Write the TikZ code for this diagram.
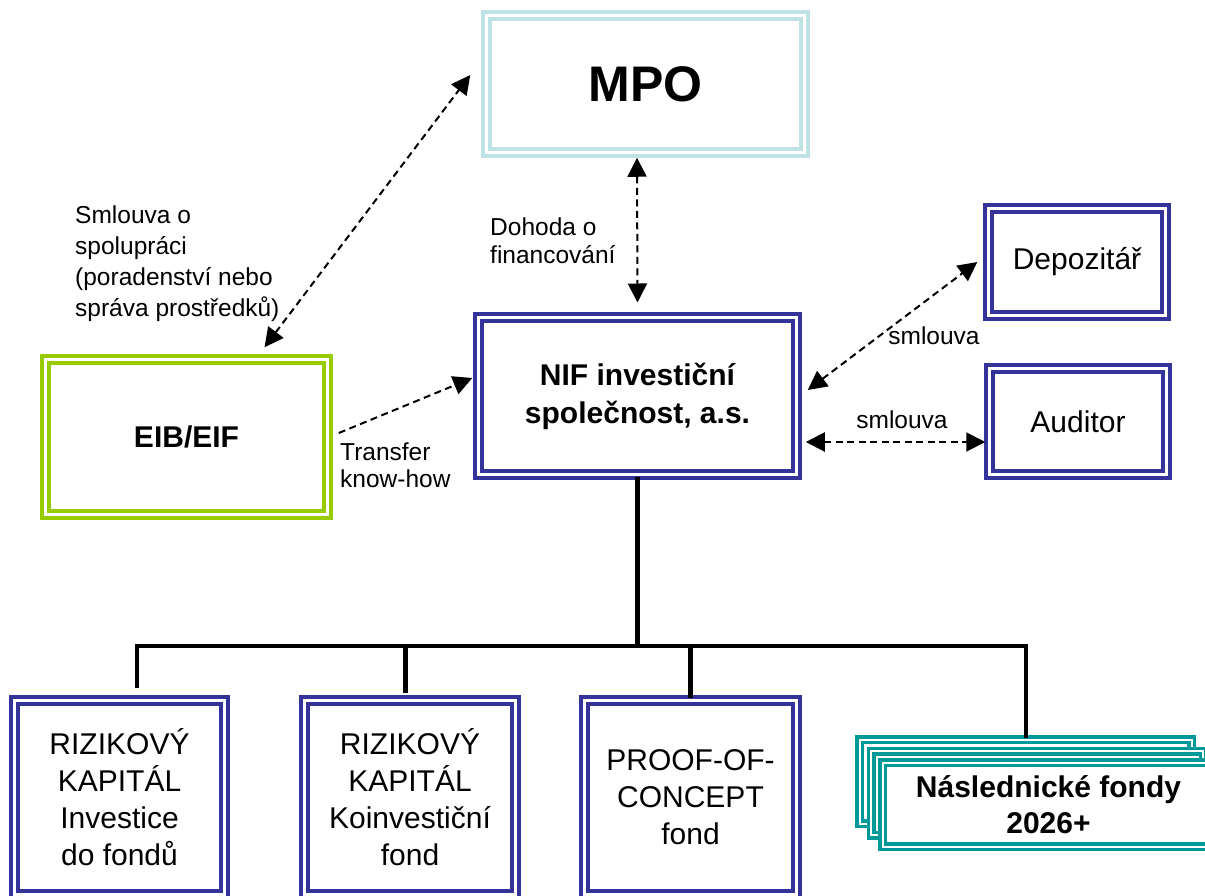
\documentclass[tikz,border=0pt]{standalone}
\usepackage{fontspec}
\setmainfont{Liberation Sans}
\usetikzlibrary{arrows.meta}
\definecolor{navy}{RGB}{51,51,153}
\definecolor{lime}{RGB}{153,204,0}
\definecolor{paleblue}{RGB}{190,226,230}
\definecolor{teal2}{RGB}{0,153,153}
\begin{document}
\begin{tikzpicture}[x=1pt,y=-1pt,
    box/.style={draw=#1,double=white,line width=4.5pt,double distance=2.5pt,fill=white,
      align=center,inner sep=0pt,font=\fontsize{30}{37}\selectfont},
    box/.default=navy,
    boxb/.style={box=#1,font=\fontsize{30}{38}\selectfont\bfseries},
    boxb/.default=navy,
    stackbox/.style={draw=teal2,double=white,line width=3.5pt,double distance=2pt,fill=white,
      align=center,inner sep=0pt,minimum width=332pt,minimum height=84pt,
      font=\fontsize{30}{36}\selectfont\bfseries},
    lbl/.style={inner sep=0pt,align=left,font=\fontsize{24.5}{28}\selectfont},
    link/.style={line width=2pt,dash pattern=on 7pt off 4.5pt,
      >={Triangle[length=19pt,width=19pt]}},
    bus/.style={line width=4.5pt}]
  \useasboundingbox (0,0) rectangle (1205,895);
  \clip (0,0) rectangle (1205,895);
  \draw
    (645.5,84) node[boxb=paleblue,minimum width=318pt,minimum height=137pt,
      font=\fontsize{50}{60}\selectfont\bfseries] (mpo) {MPO}
    (637.5,396) node[boxb,minimum width=318pt,minimum height=157pt] (nif)
      {NIF investiční\\společnost, a.s.}
    (186.5,437) node[boxb=lime,minimum width=282pt,minimum height=155pt] (eib) {EIB/EIF}
    (1077,262) node[box,minimum width=177pt,minimum height=107pt] (dep) {Depozitář}
    (1078,421.5) node[box,minimum width=177pt,minimum height=106pt] (aud) {Auditor}
    (119.5,797.5) node[box,minimum width=210pt,minimum height=194pt] (rk1)
      {RIZIKOVÝ\\KAPITÁL\\Investice\\do fondů}
    (410,797.5) node[box,minimum width=211pt,minimum height=194pt] (rk2)
      {RIZIKOVÝ\\KAPITÁL\\Koinvestiční\\fond}
    (690.5,797.5) node[box,minimum width=212pt,minimum height=194pt] (poc)
      {PROOF-OF-\\CONCEPT\\fond}
    (1025.5,781.5) node[stackbox] (nf1) {}
    (1037,793) node[stackbox] (nf2) {}
    (1048.5,804.5) node[stackbox] (nf3) {Následnické fondy\\2026+};

  % labels
  \node[lbl,anchor=base west,font=\fontsize{24.5}{31}\selectfont] (spoluprace) at (75,316)
    {Smlouva o\\spolupráci\\(poradenství nebo\\správa prostředků)};
  \node[lbl,anchor=base west] (dohoda) at (490,263) {Dohoda o\\financování};
  \node[lbl,anchor=base west,font=\fontsize{24.5}{27}\selectfont] (transfer) at (340,487)
    {Transfer\\know-how};
  \node[lbl,anchor=base] (smldep) at (934,344) {smlouva};
  \node[lbl,anchor=base] (smlaud) at (902,428) {smlouva};

  % contracts
  \begin{scope}[link]
    \draw[<->] ([xshift=78pt,yshift=10pt]eib.north) -- ([xshift=-14pt,yshift=9pt]mpo.west);
    \draw[<->] ([xshift=-8.5pt,yshift=-3pt]mpo.south) -- ([yshift=12.75pt]nif.north);
    \draw[->] ([xshift=9pt,yshift=4pt]eib.east) -- ([xshift=-4pt,yshift=18pt]nif.west);
    \draw[<->] ([xshift=9pt,yshift=6pt]nif.east) -- ([xshift=-9pt]dep.west);
    \draw[<->] ([xshift=7pt,yshift=-46pt]nif.east) -- ([xshift=-2pt,yshift=-20.5pt]aud.west);
  \end{scope}

  % funds
  \coordinate (bl) at (137,646);
  \coordinate (bm) at (637.5,646);
  \coordinate (br) at (1026,646);
  \begin{scope}[bus]
    \draw (nif.south) -- (bm);
    \draw ([yshift=10pt]bl |- rk1.north) -- (bl) -- (br) -- (br |- nf1.north);
    \draw (bl -| 405.5,0) -- ([yshift=5pt]405.5,0 |- rk2.north);
    \draw (bl -| poc.north) -- (poc.north);
  \end{scope}
\end{tikzpicture}
\end{document}
